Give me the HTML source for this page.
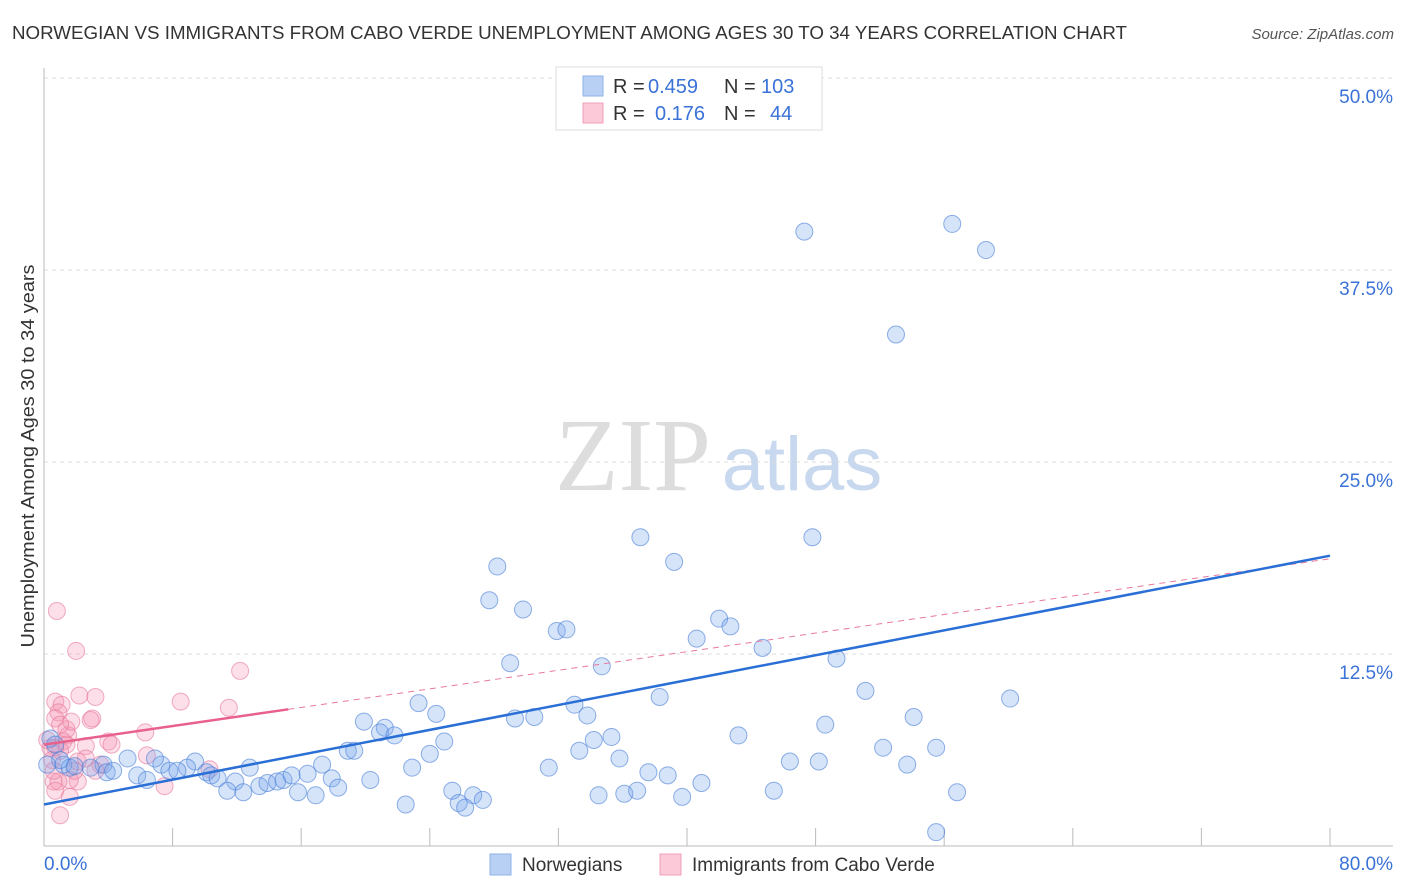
<!DOCTYPE html>
<html><head><meta charset="utf-8">
<style>
body{margin:0;background:#fff;font-family:"Liberation Sans",sans-serif;}
svg{display:block}
</style></head>
<body>
<svg id="chart" width="1406" height="892" xmlns="http://www.w3.org/2000/svg">
<text x="12" y="39" font-size="18" fill="#333" textLength="1115" lengthAdjust="spacingAndGlyphs">NORWEGIAN VS IMMIGRANTS FROM CABO VERDE UNEMPLOYMENT AMONG AGES 30 TO 34 YEARS CORRELATION CHART</text>
<text x="1394" y="39" font-size="15" fill="#555" font-style="italic" text-anchor="end">Source: ZipAtlas.com</text>
<text transform="translate(34,456) rotate(-90)" font-size="18" fill="#333" text-anchor="middle" textLength="383" lengthAdjust="spacingAndGlyphs">Unemployment Among Ages 30 to 34 years</text>
<g>
<text x="633" y="490" font-size="104" fill="#ddd" font-family="Liberation Serif,serif" text-anchor="middle">ZIP</text>
<text x="802" y="490" font-size="76" fill="#c8d8ef" text-anchor="middle">atlas</text>
</g>
<g id="grid"></g><g id="axes"></g><g id="marks"></g>
<g>
<rect x="556" y="67" width="266" height="63" fill="#fff" stroke="#ddd"/>
<rect x="583" y="76" width="20" height="20" fill="#b8d0f4" stroke="#8fb2e8"/>
<rect x="583" y="103" width="20" height="20" fill="#fbc9d8" stroke="#f0a0b8"/>
<text x="613" y="93" font-size="20" fill="#333">R =</text>
<text x="648" y="93" font-size="20" fill="#3a72d8">0.459</text>
<text x="724" y="93" font-size="20" fill="#333">N =</text>
<text x="761" y="93" font-size="20" fill="#3a72d8">103</text>
<text x="613" y="120" font-size="20" fill="#333">R =</text>
<text x="655" y="120" font-size="20" fill="#3a72d8">0.176</text>
<text x="724" y="120" font-size="20" fill="#333">N =</text>
<text x="770" y="120" font-size="20" fill="#3a72d8">44</text>
</g>
<g>
<rect x="490" y="854" width="21" height="21" fill="#b8d0f4" stroke="#8fb2e8"/>
<text x="522" y="871" font-size="19" fill="#333">Norwegians</text>
<rect x="660" y="854" width="21" height="21" fill="#fbc9d8" stroke="#f0a0b8"/>
<text x="692" y="871" font-size="19" fill="#333">Immigrants from Cabo Verde</text>
</g>
</svg>
<script>
const blueX=[47.3,56.5,58.6,53.0,37.1,47.8,28.2,39.2,27.7,29.8,31.9,32.5,42.0,42.7,40.6,44.7,29.0,34.7,49.3,51.1,60.1,38.3,23.3,33.0,24.4,29.3,30.5,33.8,19.9,48.6,54.1,21.2,20.9,21.8,43.2,35.3,34.2,24.9,18.9,19.3,52.2,55.5,33.3,24.0,35.8,46.4,48.2,53.7,31.4,22.9,17.3,12.8,9.4,7.3,8.9,5.2,6.9,3.7,2.9,1.2,1.6,1.9,3.9,4.3,5.8,6.4,7.8,8.3,10.1,10.4,10.8,11.9,13.4,13.9,14.5,14.9,15.4,16.4,17.9,18.3,20.3,37.6,38.8,40.9,11.4,12.4,15.8,16.9,25.4,26.7,27.3,25.8,26.2,22.5,34.5,36.1,36.9,39.7,45.4,56.8,55.5,0.4,0.7,1.0,0.2];
const blueY=[40.0,40.5,38.8,33.3,20.1,20.1,18.2,18.5,16.0,15.4,14.0,14.1,14.8,14.3,13.5,12.9,11.9,11.7,12.2,10.1,9.6,9.7,9.3,9.2,8.6,8.3,8.4,8.5,8.1,7.9,8.4,7.7,7.4,7.2,7.2,7.1,6.9,6.8,6.2,6.2,6.4,6.4,6.2,6.0,5.7,5.5,5.5,5.3,5.1,5.1,5.3,5.1,5.5,5.3,5.1,5.7,5.7,5.3,5.1,5.3,5.1,5.2,4.8,4.9,4.6,4.3,4.9,4.9,4.8,4.6,4.4,4.2,3.9,4.1,4.2,4.3,4.6,4.7,4.4,3.8,4.3,4.8,4.6,4.1,3.6,3.5,3.5,3.3,3.6,3.3,3.0,2.8,2.5,2.7,3.3,3.4,3.6,3.2,3.6,3.5,0.9,7.0,6.6,5.6,5.3];
const pinkX=[0.8,2.0,2.2,3.2,12.2,8.5,11.5,0.7,1.1,0.9,0.7,3.0,2.9,6.3,1.5,1.2,1.4,4.0,2.6,1.0,0.7,0.4,6.4,2.1,3.5,10.3,2.1,1.6,0.6,0.9,7.5,1.6,1.0,0.7,4.2,1.4,1.7,0.2,0.5,2.6,3.2,1.0,0.6,1.9];
const pinkY=[15.3,12.7,9.8,9.7,11.4,9.4,9.0,9.4,9.2,8.7,8.3,8.3,8.2,7.4,7.2,6.8,6.6,6.8,6.5,6.2,6.4,6.4,5.9,5.5,5.3,5.0,4.2,4.3,4.2,4.2,3.9,3.2,2.0,3.6,6.6,7.6,8.1,6.9,5.6,5.7,4.9,7.9,4.9,4.9];
const blueLine=[2.7,18.9];
const pinkLine=[6.6,18.7];
const pinkSolidEnd=15.2;
const xTicks=[0,8,16,24,32,40,48,56,64,72,80];
const yTicks=[12.5,25,37.5,50];
const yTickLabels=["12.5%","25.0%","37.5%","50.0%"];

const NS="http://www.w3.org/2000/svg";
const sx=v=>44+v/80*1286;
const sy=v=>846-v/12.5*192;
function mk(tag,attrs,parent){const e=document.createElementNS(NS,tag);for(const k in attrs)e.setAttribute(k,attrs[k]);parent.appendChild(e);return e;}
const grid=document.getElementById('grid'),axes=document.getElementById('axes'),marks=document.getElementById('marks');
yTicks.forEach((t,i)=>{
  const l=mk('line',{x1:44,x2:1393,y1:sy(t),y2:sy(t),stroke:'#ddd','stroke-dasharray':'4,4'},grid);
  
  
  const tx=mk('text',{x:1393,y:sy(t)+25,'font-size':19,fill:'#3a72d8','text-anchor':'end'},axes);
  tx.textContent=yTickLabels[i];
  
  
});
const ax=mk('line',{x1:44,x2:1393,y1:846,y2:846,stroke:'#bbb'},axes);


const ay=mk('line',{x1:44,x2:44,y1:68,y2:846,stroke:'#bbb'},axes);


xTicks.forEach(t=>{
  const l=mk('line',{x1:sx(t),x2:sx(t),y1:828,y2:846,stroke:'#bbb'},axes);
  
  
});
const x0=mk('text',{x:44,y:870,'font-size':19,fill:'#3a72d8'},axes);x0.textContent='0.0%';


const x1=mk('text',{x:1393,y:870,'font-size':19,fill:'#3a72d8','text-anchor':'end'},axes);x1.textContent='80.0%';



pinkX.forEach((x,i)=>{
  const c=mk('circle',{cx:sx(x),cy:sy(pinkY[i]),r:8.5,fill:'rgba(245,150,180,0.3)',stroke:'rgba(232,120,155,0.6)','stroke-width':1},marks);
  
  
});
blueX.forEach((x,i)=>{
  const c=mk('circle',{cx:sx(x),cy:sy(blueY[i]),r:8.5,fill:'rgba(120,165,235,0.3)',stroke:'rgba(70,125,215,0.6)','stroke-width':1},marks);
  
  
});
const pl=v=>pinkLine[0]+(pinkLine[1]-pinkLine[0])*v/80;
const pd=mk('line',{x1:sx(pinkSolidEnd),y1:sy(pl(pinkSolidEnd)),x2:sx(80),y2:sy(pinkLine[1]),stroke:'#e8799c','stroke-width':1,'stroke-dasharray':'6,5'},marks);


const ps=mk('line',{x1:sx(0),y1:sy(pinkLine[0]),x2:sx(pinkSolidEnd),y2:sy(pl(pinkSolidEnd)),stroke:'#e8608c','stroke-width':2.5},marks);


const bl=mk('line',{x1:sx(0),y1:sy(blueLine[0]),x2:sx(80),y2:sy(blueLine[1]),stroke:'#2a6fd6','stroke-width':2.5},marks);


</script>
</body></html>
